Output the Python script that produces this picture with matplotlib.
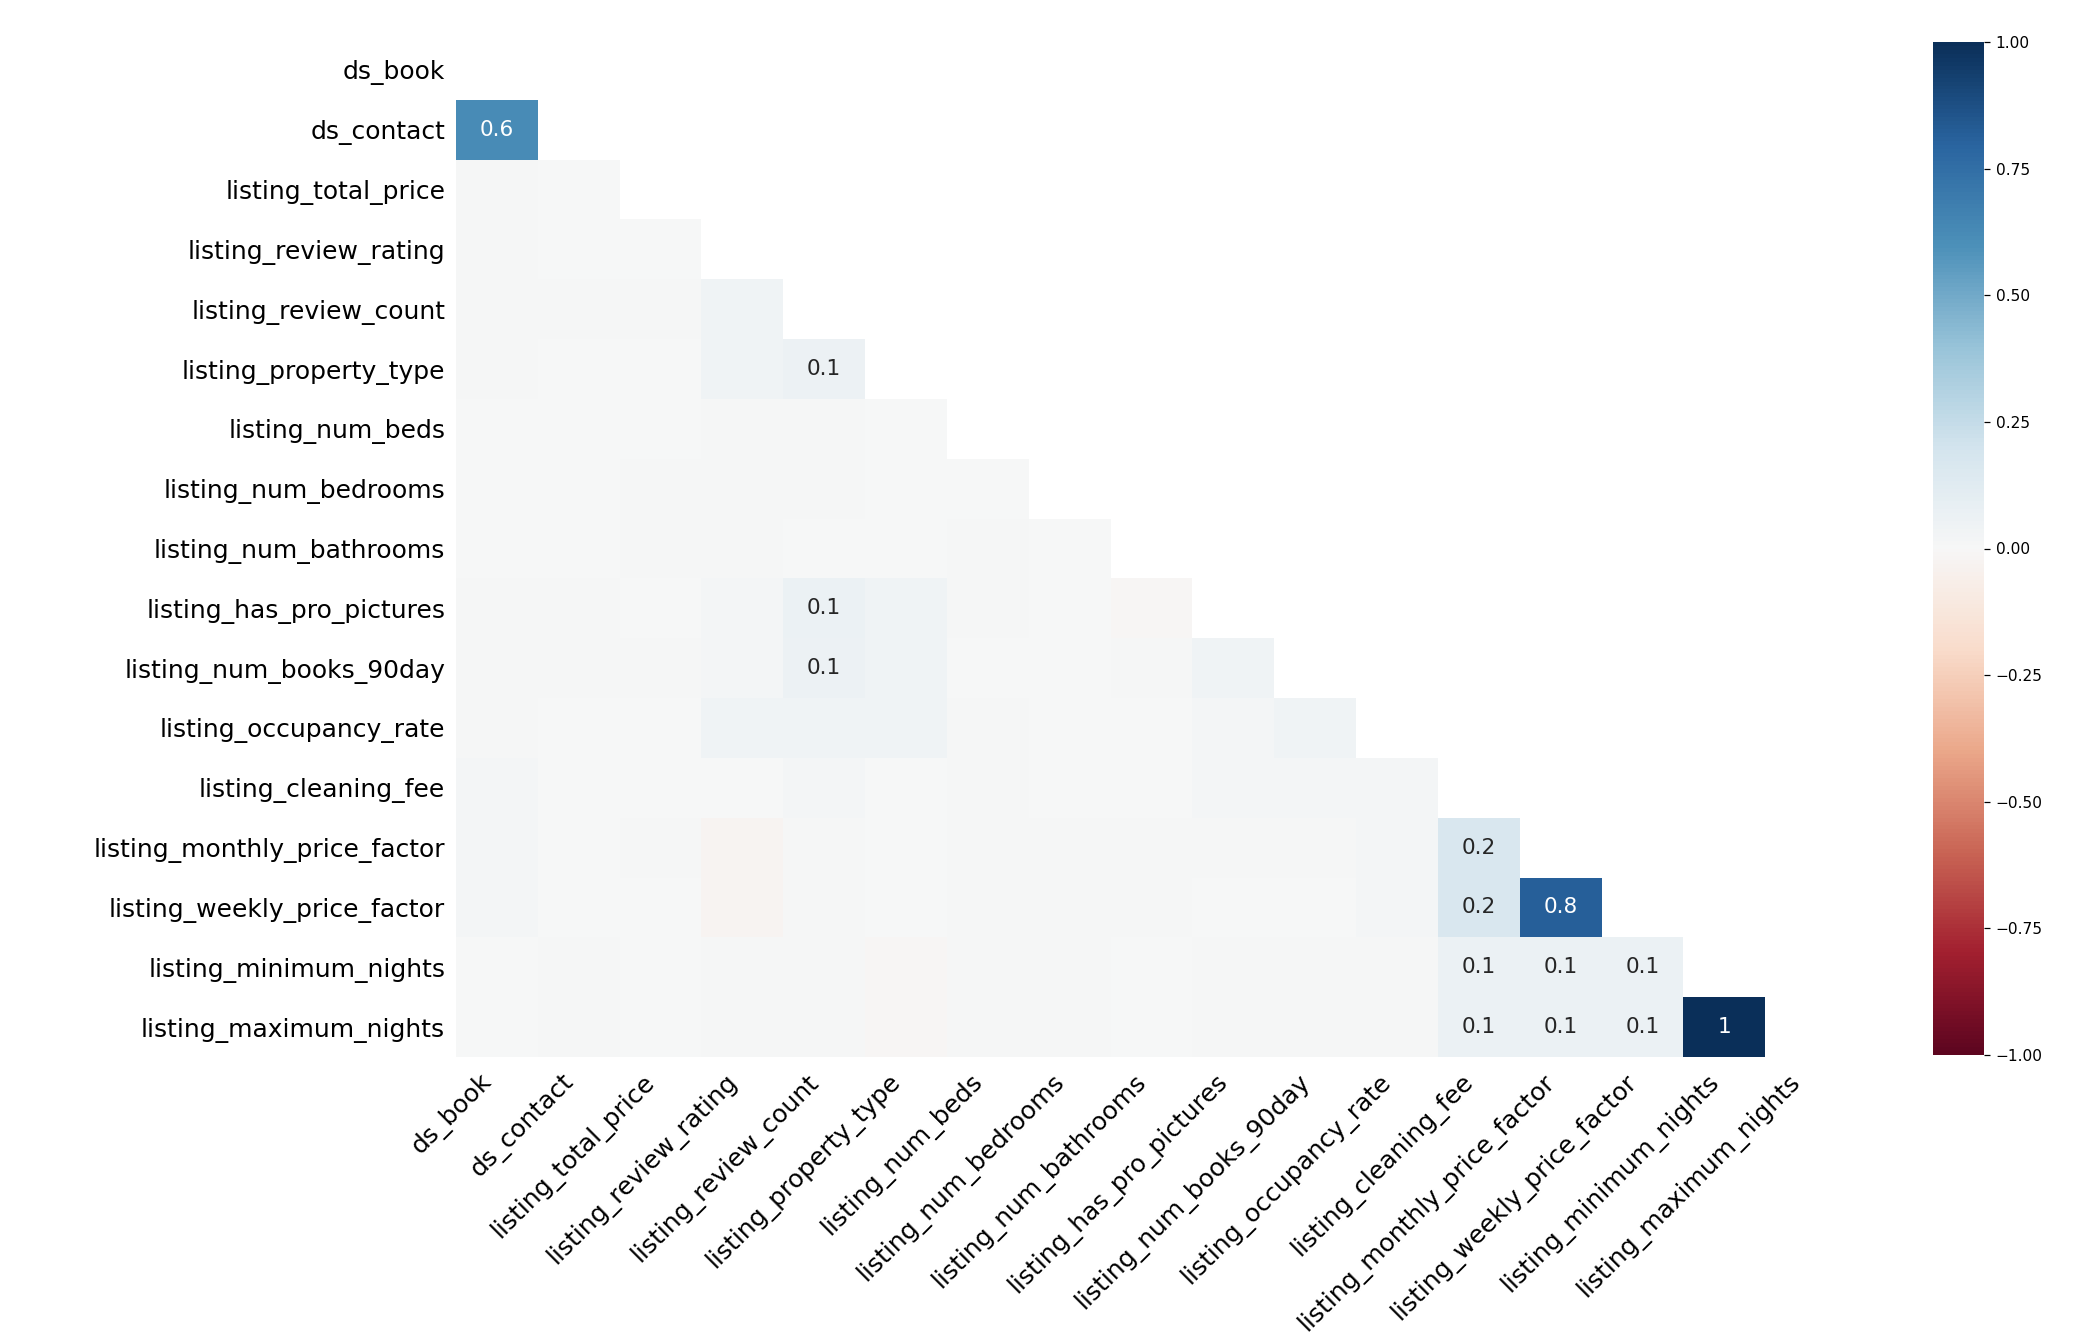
import numpy as np
import matplotlib
matplotlib.use("Agg")
import matplotlib.pyplot as plt
from matplotlib.colors import ListedColormap
import seaborn as sns

# Nombres de las columnas (filas y columnas del heatmap)
labels = ['ds_book', 'ds_contact', 'listing_total_price', 'listing_review_rating',
          'listing_review_count', 'listing_property_type', 'listing_num_beds',
          'listing_num_bedrooms', 'listing_num_bathrooms', 'listing_has_pro_pictures',
          'listing_num_books_90day', 'listing_occupancy_rate', 'listing_cleaning_fee',
          'listing_monthly_price_factor', 'listing_weekly_price_factor',
          'listing_minimum_nights', 'listing_maximum_nights']

# Correlaciones de nulidad (triangulo inferior, fila i -> columnas 0..i-1)
lower_rows = [
    [],
    [0.62],
    [0.012, 0.005],
    [0.012, 0.005, 0.005],
    [0.012, 0.012, 0.012, 0.045],
    [0.012, 0.005, 0.005, 0.045, 0.06],
    [0.005, 0.005, 0.005, 0.012, 0.012, 0.005],
    [0.005, 0.005, 0.012, 0.012, 0.012, 0.005, 0.005],
    [0.005, 0.005, 0.012, 0.012, 0.005, 0.005, 0.012, 0.005],
    [0.012, 0.012, 0.005, 0.02, 0.07, 0.045, 0.012, 0.005, -0.008],
    [0.012, 0.012, 0.012, 0.02, 0.06, 0.045, 0.005, 0.005, 0.012, 0.04],
    [0.012, 0.005, 0.005, 0.045, 0.045, 0.04, 0.012, 0.005, 0.005, 0.02, 0.04],
    [0.02, 0.005, 0.005, 0.005, 0.02, 0.005, 0.012, 0.005, 0.005, 0.02, 0.02, 0.02],
    [0.02, 0.005, 0.012, -0.025, 0.012, 0.005, 0.012, 0.012, 0.012, 0.012, 0.012, 0.02, 0.17],
    [0.02, 0.005, 0.005, -0.025, 0.012, 0.005, 0.012, 0.012, 0.012, 0.005, 0.005, 0.02, 0.17, 0.82],
    [0.005, 0.012, 0.005, 0.012, 0.012, -0.01, 0.012, 0.012, 0.005, 0.012, 0.012, 0.012, 0.07, 0.07, 0.07],
    [0.005, 0.012, 0.005, 0.012, 0.012, -0.01, 0.012, 0.012, 0.005, 0.012, 0.012, 0.012, 0.07, 0.07, 0.07, 1.0],
]

n = len(labels)
corr = np.zeros((n, n))
for i, row in enumerate(lower_rows):
    corr[i, :len(row)] = row

mask = np.zeros_like(corr, dtype=bool)
mask[np.triu_indices_from(mask)] = True

# Texto de las anotaciones al estilo missingno
annot = np.empty((n, n), dtype=object)
for i in range(n):
    for j in range(n):
        t = corr[i, j]
        if t == 1:
            annot[i, j] = '1'
        elif -0.05 < t < 0.05:
            annot[i, j] = ''
        else:
            annot[i, j] = str(round(t, 1))

# RdBu un poco desaturado (como en la captura)
base = plt.get_cmap('RdBu')(np.linspace(0, 1, 256))
lum = base[:, :3] @ np.array([0.299, 0.587, 0.114])
base[:, :3] = lum[:, None] + (base[:, :3] - lum[:, None]) * 0.85
cmap = ListedColormap(base)

fig = plt.figure(figsize=(2086 / 111, 1332 / 111), dpi=111)
ax = fig.add_axes([456 / 2086, 1 - 1057 / 1332, (1847 - 456) / 2086, (1057 - 40) / 1332])
cax = fig.add_axes([1933 / 2086, 1 - 1055 / 1332, (1984 - 1933) / 2086, (1055 - 42) / 1332])

sns.heatmap(corr, mask=mask, cmap=cmap, vmin=-1, vmax=1, ax=ax, cbar_ax=cax,
            annot=annot, fmt='', annot_kws={'size': 14})

ax.set_xticklabels(labels, rotation=45, ha='right', fontsize=16.2)
ax.set_yticklabels(labels, rotation=0, fontsize=16.2, va='center_baseline')
ax.tick_params(axis='both', length=0)
ax.tick_params(axis='y', pad=7)
ax.tick_params(axis='x', pad=8)

cax.set_yticks([-1, -0.75, -0.5, -0.25, 0, 0.25, 0.5, 0.75, 1])
cax.set_yticklabels(['\u22121.00', '\u22120.75', '\u22120.50', '\u22120.25', '0.00',
                     '0.25', '0.50', '0.75', '1.00'])
cax.tick_params(labelsize=10, length=4)

fig.savefig('out.png', dpi=111)
